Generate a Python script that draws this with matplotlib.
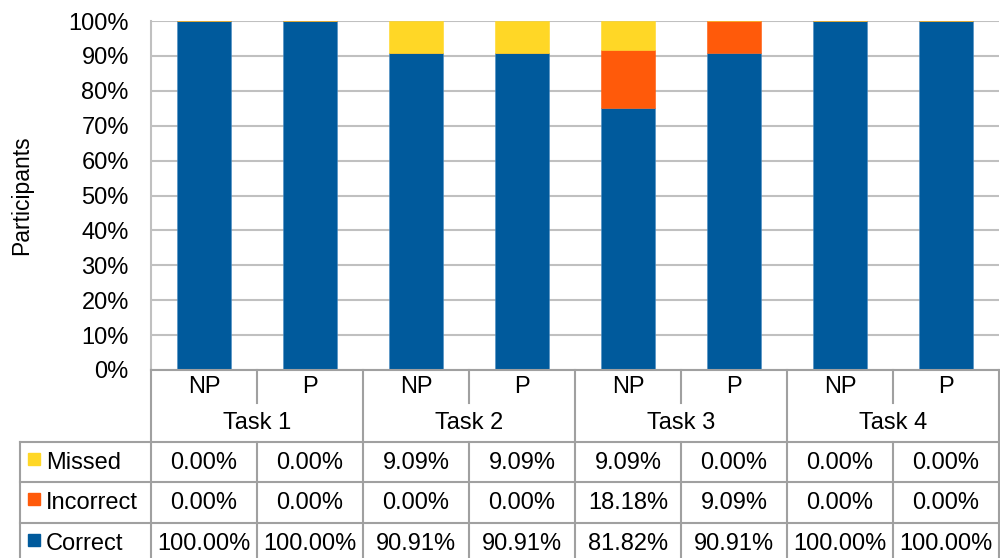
import matplotlib
matplotlib.use("Agg")
import matplotlib.pyplot as plt
import numpy as np

plt.rcParams['font.family'] = ['Liberation Sans', 'DejaVu Sans']

# data (percent of participants, as shown in the table)
tasks = ["Task 1", "Task 2", "Task 3", "Task 4"]
groups = ["NP", "P"]
series = ["Missed", "Incorrect", "Correct"]
missed = [0.00, 0.00, 9.09, 9.09, 9.09, 0.00, 0.00, 0.00]
incorrect = [0.00, 0.00, 0.00, 0.00, 18.18, 9.09, 0.00, 0.00]
correct = [100.00, 100.00, 90.91, 90.91, 81.82, 90.91, 100.00, 100.00]
colors = {"Missed": "#FFD726", "Incorrect": "#FF5A0A", "Correct": "#005A9C"}

values = {"Missed": missed, "Incorrect": incorrect, "Correct": correct}
n = len(correct)
x = np.arange(n)
total = np.array(missed) + np.array(incorrect) + np.array(correct)
FS = 17

fig = plt.figure(figsize=(10, 5.58), dpi=100)
W, H = 1000, 558
ax = fig.add_axes([151 / W, 1 - 370 / H, 848 / W, 349 / H])

# 100% stacked bars
bottom = np.zeros(n)
for name in ["Correct", "Incorrect", "Missed"]:
    share = np.array(values[name]) / total * 100
    ax.bar(x, share, 0.51, bottom=bottom, color=colors[name], zorder=3,
           edgecolor="#4a8cc4" if name == "Correct" else colors[name], linewidth=0.4)
    bottom += share

ax.set_xlim(-0.5, n - 0.5)
ax.set_ylim(0, 100)
ax.set_yticks(np.arange(0, 101, 10))
ax.set_yticklabels([f"{v}%" for v in range(0, 101, 10)], fontsize=FS)
ax.tick_params(axis="y", length=0, pad=16)
ax.set_xticks([])
ax.grid(axis="y", color="#c0c0c0", linewidth=1.5, zorder=0)
for s in ["top", "right", "bottom"]:
    ax.spines[s].set_visible(False)
ax.spines["left"].set_color("#c0c0c0")
ax.spines["left"].set_linewidth(1.5)
ax.set_ylabel("Participants", fontsize=FS - 0.5, labelpad=25)

# data table below the plot, sharing the category x axis
tb = fig.add_axes([151 / W, 0, 848 / W, 188 / H])
tb.set_xlim(-0.5, n - 0.5)
tb.set_ylim(558, 370)
tb.axis("off")
lc = "#a0a0a0"
lw = 1.5
cw = 848 / n                      # px per category
leg_left = -0.5 - (151 - 20) / cw  # legend column left edge in data units

rows_y = [442, 482, 523, 563]
row_mid = [462, 502, 543]

# header rows
for i in range(n + 1):
    xe = i - 0.5
    if i % 2 == 0:
        tb.plot([xe, xe], [370, 442], color=lc, lw=lw, clip_on=False)
    else:
        tb.plot([xe, xe], [370, 403], color=lc, lw=lw, clip_on=False)
tb.plot([-0.5, n - 0.5], [370, 370], color=lc, lw=lw, clip_on=False)
for i in range(n):
    tb.text(i, 387, groups[i % 2], ha="center", va="center", fontsize=FS)
for j, t in enumerate(tasks):
    tb.text(2 * j + 0.5, 423, t, ha="center", va="center", fontsize=FS)

# table rows
for yv in rows_y[:3]:
    tb.plot([leg_left, n - 0.5], [yv, yv], color=lc, lw=lw, clip_on=False)
for xe in [leg_left] + [i - 0.5 for i in range(n + 1)]:
    tb.plot([xe, xe], [442, 563], color=lc, lw=lw, clip_on=False)

sq = 12 / cw
for r, name in enumerate(series):
    ym = row_mid[r]
    tb.add_patch(plt.Rectangle((leg_left + 8 / cw, ym - 9), sq, 12,
                               color=colors[name], clip_on=False))
    tb.text(leg_left + 26 / cw, ym + 1, name, ha="left", va="center", fontsize=FS)
    for i in range(n):
        tb.text(i, ym + 1, f"{values[name][i]:.2f}%", ha="center", va="center", fontsize=FS)

fig.savefig("out.png", dpi=100)
